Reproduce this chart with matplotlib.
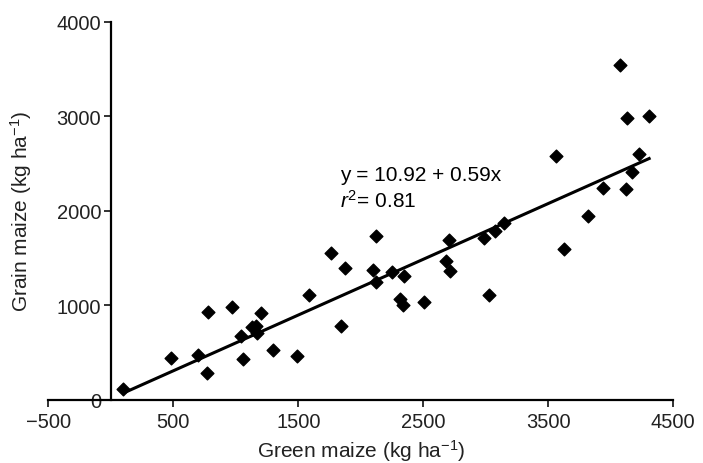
import numpy as np
import matplotlib
matplotlib.use("Agg")
import matplotlib.pyplot as plt

plt.rcParams['font.family'] = ['Liberation Sans', 'DejaVu Sans']
plt.rcParams['mathtext.fontset'] = 'custom'
plt.rcParams['mathtext.rm'] = 'Liberation Sans'
plt.rcParams['mathtext.it'] = 'Liberation Sans:italic'

# green maize vs grain maize yields (kg/ha)
green = [100, 482, 701, 768, 776, 968, 1040, 1056, 1128, 1160, 1168, 1203, 1296, 1493,
         1589, 1761, 1841, 1870, 2121, 2097, 2121, 2249, 2347, 2310, 2337, 2508, 2702,
         2681, 2716, 2982, 3076, 3148, 3562, 3628, 3022, 3818, 3938, 4122, 4170, 4224,
         4077, 4130, 4307]
grain = [113, 441, 473, 282, 925, 978, 671, 427, 766, 785, 706, 917, 529, 459,
         1108, 1549, 777, 1394, 1736, 1376, 1242, 1348, 1306, 1066, 1002, 1037, 1693,
         1471, 1359, 1708, 1788, 1870, 2576, 1595, 1111, 1941, 2240, 2230, 2413, 2600,
         3542, 2984, 3005]

intercept = 10.92
slope = 0.59
r2 = 0.81

xticks = [-500, 500, 1500, 2500, 3500, 4500]
yticks = [0, 1000, 2000, 3000, 4000]

fig = plt.figure(figsize=(7.03, 4.64), dpi=100)
ax = fig.add_axes([0.0687, 0.1364, 0.889, 0.8147])

ax.scatter(green, grain, marker='D', s=42, color='black', zorder=3)

xl = np.array([min(green), max(green)])
ax.plot(xl, intercept + slope * xl, color='black', lw=2.2, zorder=2)

ax.text(1835, 2385, 'y = %.2f + %.2fx' % (intercept, slope), fontsize=15, va='center')
ax.text(1835, 2110, '$r^2$= %.2f' % r2, fontsize=15, va='center')

ax.set_xlim(-500, 4500)
ax.set_ylim(0, 4000)
ax.set_xticks(xticks)
ax.set_yticks(yticks)
ax.spines['left'].set_position(('data', 0))
ax.spines['top'].set_visible(False)
ax.spines['right'].set_visible(False)
for s in ['left', 'bottom']:
    ax.spines[s].set_linewidth(1.6)
ax.tick_params(width=1.3, length=5, labelsize=14.5, color='#222222', labelcolor='#222222')
ax.tick_params(axis='y', pad=2)
ax.tick_params(axis='x', pad=4)

ax.set_xlabel('Green maize (kg ha$^{-1}$)', fontsize=15, color='#222222', labelpad=4)
ax.set_ylabel('Grain maize (kg ha$^{-1}$)', fontsize=15, color='#222222', va='center')
ax.yaxis.set_label_coords(-0.044, 0.5)

fig.savefig('out.png', dpi=100)
